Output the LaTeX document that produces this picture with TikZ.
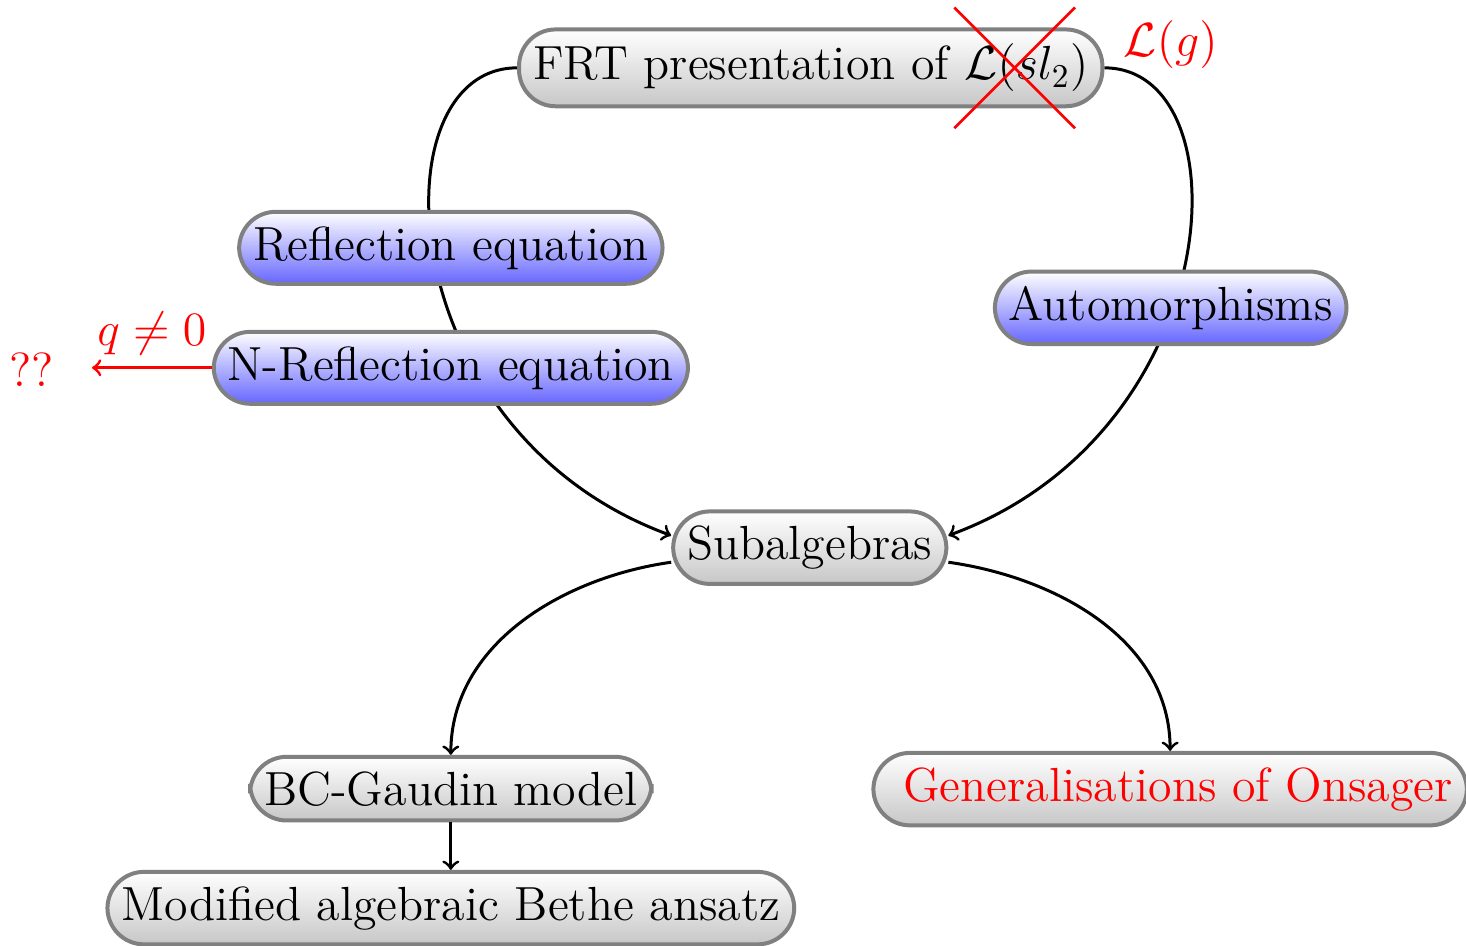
\documentclass[tikz,border=0pt]{standalone}
\usepackage{amsmath}
\usepackage{amssymb}
\usetikzlibrary{backgrounds}

\begin{document}
\begin{tikzpicture}[
    greybox/.style={rectangle, rounded corners=11pt, draw=gray, very thick,
        top color=white, bottom color=black!22,
        inner xsep=4.2pt, inner ysep=4.35pt, font=\Large},
    bluebox/.style={greybox, bottom color=blue!60},
    link/.style={line width=0.9pt, ->},
    redlink/.style={line width=0.9pt, ->, red},
]
\useasboundingbox (0,0) rectangle (15.488,9.990);

\node[greybox] (frt) at (8.565,9.273) {FRT presentation of $\mathcal{L}(sl_2)$};
\node[bluebox] (refl) at (4.763,7.372) {Reflection equation};
\node[bluebox] (nrefl) at (4.763,6.104) {N-Reflection equation};
\node[bluebox] (auto) at (12.368,6.738) {Automorphisms};
\node[greybox] (sub) at (8.555,4.204) {Subalgebras};
\node[greybox] (bc) at (4.763,1.658) {BC-Gaudin model};
\node[greybox] (gen) at (12.362,1.653) {\hspace{0.33em}\textcolor{red}{Generalisations of Onsager}};
\node[greybox] (mod) at (4.763,0.396) {Modified algebraic Bethe ansatz};

\begin{scope}[on background layer]
\draw[link] (frt.west) .. controls +(-1.5,0) and +(-2.976,1.092) .. (sub.175);
\draw[link] (frt.east) .. controls +(1.5,0) and +(2.976,1.092) .. (sub.5);
\end{scope}

\draw[link] (sub.186) .. controls +(-1.159,-0.164) and +(0,1.159) .. (bc.north);
\draw[link] (sub.-6) .. controls +(1.159,-0.164) and +(0,1.159) .. (gen.north);
\draw[link] (bc) -- (mod);

\coordinate (cross) at (10.720,9.273);
\draw[red, thick] (cross) +(-0.638,-0.638) -- +(0.638,0.638)
    (cross) +(-0.638,0.638) -- +(0.638,-0.638);
\node[red, font=\Large] (lg) at (12.368,9.516) {$\mathcal{L}(g)$};

\node[red, font=\Large] (qq) at (0.338,6.084) {??};
\coordinate (qend) at (0.972,6.104);
\draw[redlink] (nrefl.west) -- (qend)
    node[midway, above, font=\Large] {$q \neq 0$};
\end{tikzpicture}
\end{document}
